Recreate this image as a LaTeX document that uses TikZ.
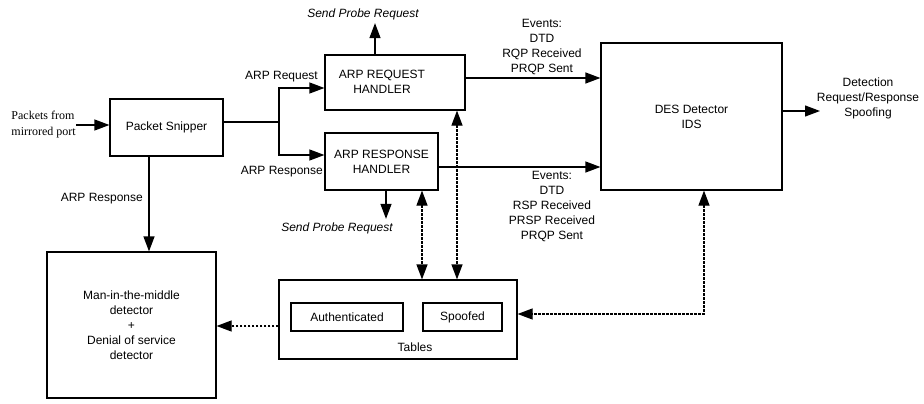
\documentclass[tikz,border=0pt]{standalone}
\usepackage{fontspec}
\setmainfont{Liberation Sans}
\newfontfamily\serifrm{Liberation Serif}
\usetikzlibrary{
	arrows.meta,
	calc,
	positioning
}

\begin{document}
\begin{tikzpicture}[x=1pt, y=-1pt,
		every node/.style={font=\fontsize{12}{15}\selectfont, align=center},
		blk/.style={draw, line width=1.2pt, inner sep=0pt},
		plain/.style={line width=1.2pt},
		arr/.style={line width=1.2pt, -{Triangle[length=15pt,width=11pt]}},
		dotarr/.style={arr, dash pattern=on 2.5pt off 1.5pt},
		darr/.style={dotarr, {Triangle[length=15pt,width=11pt]}-{Triangle[length=15pt,width=11pt]}}]
		\useasboundingbox (0,0) rectangle (924,404);
		\node[blk, minimum width=113pt, minimum height=57pt] (snip) at (166.5,127.5) {Packet Snipper};
		\node[blk, minimum width=140pt, minimum height=55pt] (req) at (395,82.5) {};
		\node (reqtxt) at (382,82) {ARP REQUEST\\HANDLER};
		\node[blk, minimum width=113pt, minimum height=57pt] (resp) at (381.5,161.5) {ARP RESPONSE\\HANDLER};
		\node[blk, minimum width=181pt, minimum height=147pt] (des) at (691.5,116.5) {DES Detector\\IDS};
		\node[blk, minimum width=169pt, minimum height=146pt] (mitm) at (131.5,325) {Man-in-the-middle\\detector\\+\\Denial of service\\detector};
		\node[blk, minimum width=238pt, minimum height=79pt] (tab) at (398,319.5) {};
		\node (tabtxt) at (415,347) {Tables};
		\node[blk, minimum width=112pt, minimum height=28pt] (auth) at (347,317) {Authenticated};
		\node[blk, minimum width=79pt, minimum height=28pt] (spf) at (462.5,317) {Spoofed};
		
		\node[font=\serifrm\fontsize{12}{16}\selectfont, align=left, anchor=east, inner sep=0pt] (pkt) at (76,125) {Packets from\\mirrored port};
		\node[font=\itshape\fontsize{12}{15}\selectfont] (sprq) at (363,14) {Send Probe Request};
		\node[font=\itshape\fontsize{12}{15}\selectfont] (sprs) at (337,228) {Send Probe Request};
		\node (evq) at (542,47) {Events:\\DTD\\RQP Received\\PRQP Sent};
		\node (evs) at (552,206.5) {Events:\\DTD\\RSP Received\\PRSP Received\\PRQP Sent};
		\node (det) at (868,98) {Detection\\Request/Response\\Spoofing};
		\node[anchor=east, inner sep=0pt] (lreq) at (318,77) {ARP Request};
		\node[anchor=east, inner sep=0pt] (lresp) at (323,172) {ARP Response};
		\node[anchor=east, inner sep=0pt] (lmitm) at (143,199) {ARP Response};
		
		\coordinate (jn) at (279,122);
		\coordinate (detin) at (820,111);
		\draw[arr] (pkt.east) -- (pkt.east -| snip.west);
		\draw[plain] (snip.east |- jn) -- (jn);
		\draw[arr] (jn) |- ([yshift=-5.5pt]req.west);
		\draw[arr] (jn) |- ([yshift=6.5pt]resp.west);
		\draw[arr] ([xshift=-20pt]req.north) -- ([xshift=-20pt]req.north |- sprq.south);
		\draw[arr] ([xshift=4.5pt]resp.south) -- ([xshift=4.5pt]resp.south |- sprs.north);
		\draw[arr] ([yshift=4.5pt]req.east) -- ([yshift=4.5pt]req.east -| des.west);
		\draw[arr] ([yshift=-5.5pt]resp.east) -- ([yshift=-5.5pt]resp.east -| des.west);
		\draw[arr] ([yshift=5.5pt]des.east) -- (detin);
		\draw[arr] ([xshift=-17.5pt]snip.south) -- ([xshift=-17.5pt]snip.south |- mitm.north);
		\draw[darr] ([xshift=40.5pt]resp.south) -- ([xshift=40.5pt]resp.south |- tab.north);
		\draw[darr] ([xshift=62pt]req.south) -- ([xshift=62pt]req.south |- tab.north);
		\draw[dotarr] ([yshift=-6.5pt]tab.west) -- ([yshift=-6.5pt]tab.west -| mitm.east);
		\draw[darr] ([xshift=12.5pt]des.south) |- ([yshift=5.5pt]tab.east);
	\end{tikzpicture}
\end{document}
